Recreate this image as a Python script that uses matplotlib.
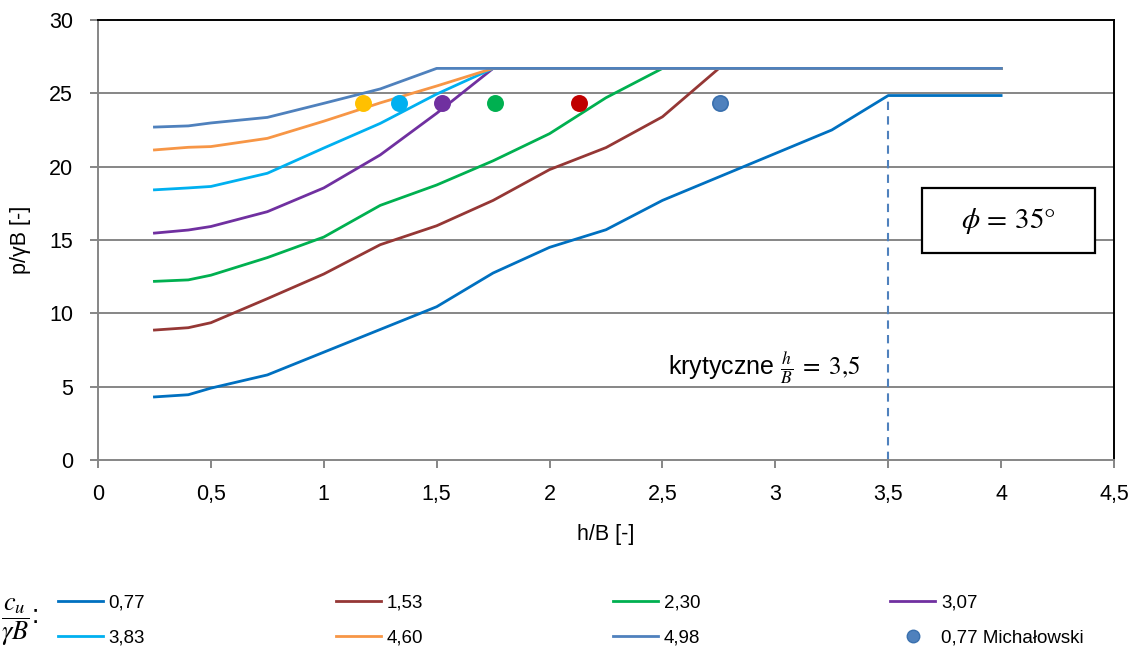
import matplotlib
matplotlib.use("Agg")
import matplotlib.pyplot as plt
from matplotlib.lines import Line2D
from matplotlib.patches import Rectangle

plt.rcParams['mathtext.fontset'] = 'stix'
plt.rcParams['font.family'] = ['Liberation Sans', 'DejaVu Sans']

# ---- data ----
hB = [0.25, 0.4, 0.5, 0.75, 1.0, 1.25, 1.5, 1.75, 2.0, 2.25, 2.5, 2.75, 3.0, 3.25, 3.5, 3.75, 4.0]
s077 = [4.3, 4.45, 4.9, 5.8, 7.35, 8.9, 10.45, 12.75, 14.5, 15.7, 17.7, 19.3, 20.9, 22.5, 24.85, 24.85, 24.85]
s153 = [8.86, 9.02, 9.36, 11.0, 12.68, 14.68, 15.97, 17.7, 19.8, 21.3, 23.4, 26.7, 26.7, 26.7, 26.7, 26.7, 26.7]
s230 = [12.18, 12.28, 12.6, 13.8, 15.2, 17.36, 18.75, 20.4, 22.25, 24.7, 26.7, 26.7, 26.7, 26.7, 26.7, 26.7, 26.7]
s307 = [15.47, 15.68, 15.92, 16.93, 18.55, 20.8, 23.64, 26.7, 26.7, 26.7, 26.7, 26.7, 26.7, 26.7, 26.7, 26.7, 26.7]
s383 = [18.42, 18.55, 18.65, 19.55, 21.27, 22.95, 24.95, 26.7, 26.7, 26.7, 26.7, 26.7, 26.7, 26.7, 26.7, 26.7, 26.7]
s460 = [21.14, 21.32, 21.37, 21.93, 23.1, 24.35, 25.5, 26.7, 26.7, 26.7, 26.7, 26.7, 26.7, 26.7, 26.7, 26.7, 26.7]
s498 = [22.7, 22.78, 22.98, 23.36, 24.32, 25.3, 26.7, 26.7, 26.7, 26.7, 26.7, 26.7, 26.7, 26.7, 26.7, 26.7, 26.7]

series = [s077, s153, s230, s307, s383, s460, s498]
series_labels = ['0,77', '1,53', '2,30', '3,07', '3,83', '4,60', '4,98']
series_colors = ['#0070C0', '#953735', '#00B050', '#7030A0', '#00B0F0', '#F79646', '#4F81BD']

mich_x = [1.175, 1.333, 1.524, 1.759, 2.13, 2.756]
mich_y = [24.35, 24.35, 24.35, 24.35, 24.35, 24.35]
mich_colors = ['#FFC000', '#00B0F0', '#7030A0', '#00B050', '#C00000', '#4F81BD']

crit_hB = 3.5
crit_p = 24.85

xticks = [0, 0.5, 1, 1.5, 2, 2.5, 3, 3.5, 4, 4.5]
xticklabels = ['0', '0,5', '1', '1,5', '2', '2,5', '3', '3,5', '4', '4,5']
yticks = [0, 5, 10, 15, 20, 25, 30]

# ---- figure ----
W, H = 1137, 650
fig = plt.figure(figsize=(W / 100, H / 100), dpi=100)
ax = fig.add_axes([98 / W, 1 - 460 / H, (1114 - 98) / W, (460 - 20) / H])

grid_c = '#868686'
for y in yticks[1:-1]:
    ax.axhline(y, color=grid_c, lw=1.4, zorder=0)

handles = []
for s, lab, c in zip(series, series_labels, series_colors):
    h, = ax.plot(hB, s, color=c, lw=2.0, label=lab, zorder=3)
    handles.append(h)

ax.plot([crit_hB, crit_hB], [0, crit_p], color='#4F81BD', lw=1.5, ls=(0, (4, 3)), zorder=2)

for x, y, c in zip(mich_x, mich_y, mich_colors):
    ec = '#3A70AE' if c == '#4F81BD' else c
    ax.plot([x], [y], 'o', color=c, mec=ec, mew=1.2, ms=11, zorder=4)

ax.set_xlim(0, 4.5)
ax.set_ylim(0, 30)
ax.set_xticks(xticks)
ax.set_xticklabels(xticklabels)
ax.set_yticks(yticks)
ax.tick_params(axis='both', labelsize=15.5, color=grid_c, length=6, width=1.4, direction='out')
ax.tick_params(axis='x', pad=11)
ax.tick_params(axis='y', pad=12)
for side in ['left', 'bottom']:
    ax.spines[side].set_color(grid_c)
    ax.spines[side].set_linewidth(1.4)
for side in ['top', 'right']:
    ax.spines[side].set_color('black')
    ax.spines[side].set_linewidth(1.4)

ax.set_xlabel('h/B [-]', fontsize=15.5)
ax.set_ylabel('p/γB [-]', fontsize=15.5)
ax.xaxis.set_label_coords(0.5, (460 - 524) / 440)
ax.yaxis.set_label_coords((31 - 98) / 1016, 0.5)

# phi box (drawn in axes data coordinates)
ax.add_patch(Rectangle((3.65, 14.11), 0.765, 4.43, fc='white', ec='black', lw=1.6, zorder=5))
ax.text(4.03, 16.3, r'$\phi\,=\,35°$', fontsize=21, ha='center', va='center', zorder=6)

ax.text(3.375, 5.8, r'krytyczne $\frac{h}{B}\;=\;3{,}5$', fontsize=18, ha='right', va='baseline', zorder=5)

# legend
mich_handle = Line2D([], [], ls='none', marker='o', color='#4F81BD', mec='#3A70AE', ms=9,
                     label='0,77 Michałowski')
order = [handles[0], handles[4], handles[1], handles[5], handles[2], handles[6], handles[3], mich_handle]
fig.legend(handles=order, labels=[h.get_label() for h in order], ncol=4,
           loc='upper left', bbox_to_anchor=(58 / W, 1 - 594 / H), frameon=False,
           prop={'size': 13.5}, handlelength=2.4, handletextpad=0.3, columnspacing=10.15,
           labelspacing=0.95, borderpad=0, borderaxespad=0)

fig.text(1 / W, 1 - 622 / H, r'$\dfrac{c_u}{\gamma B}$:', fontsize=19, ha='left', va='center')

fig.savefig('out.png', dpi=100)
